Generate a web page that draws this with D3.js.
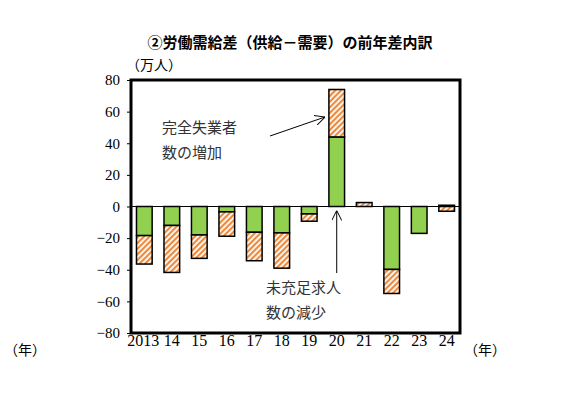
<!DOCTYPE html><html><head><meta charset="utf-8"><script src="https://cdn.jsdelivr.net/npm/d3@7"></script>
<style>body{margin:0;background:#fff}</style></head><body><svg id="c" width="576" height="410"></svg>
<script>
const categories=["2013","14","15","16","17","18","19","20","21","22","23","24"];
const unemployed=[-18.4,-12,-18,-3.4,-16.3,-16.7,-4.7,44,0,-39.8,-17,0.8];
const vacancies=[-18,-29.7,-14.8,-15.4,-18,-22.3,-4.6,30,2.5,-15.2,0,-3];
const yTicks=[-80,-60,-40,-20,0,20,40,60,80];
const svg=d3.select("#c");
const defs=svg.append("defs");
const p=defs.append("pattern").attr("id","h").attr("patternUnits","userSpaceOnUse").attr("width",4).attr("height",4).attr("patternTransform","rotate(45)");
p.append("rect").attr("width",4).attr("height",4).attr("fill","#fff");
p.append("rect").attr("width",2.2).attr("height",4).attr("fill","#ee8a3c");
const L=131,R=460,T=80,B=333;
const x=d3.scaleBand().domain(categories).range([L,R]).paddingInner(0.43).paddingOuter(0.2);
const y=d3.scaleLinear().domain([-80,80]).range([B,T]);
const num="Liberation Serif, serif", jp="Noto Sans CJK JP";
svg.append("text").attr("x",290).attr("y",48).attr("text-anchor","middle").attr("font-family",jp).attr("font-weight","bold").attr("font-size",15).text("②労働需給差（供給－需要）の前年差内訳");
svg.append("text").attr("x",126).attr("y",70).attr("font-family",jp).attr("font-size",14).text("（万人）");
const ya=svg.append("g").attr("transform",`translate(${L},0)`).call(d3.axisLeft(y).tickValues(yTicks).tickSize(4).tickFormat(d=>d<0?"−"+(-d):d));
ya.select(".domain").remove();
ya.selectAll("text").attr("font-family",num).attr("font-size",15).attr("fill","#000").attr("dx",-4);
categories.forEach((c,i)=>{
  const g=unemployed[i], h=vacancies[i];
  const bx=x(c), w=x.bandwidth();
  svg.append("rect").attr("x",bx).attr("width",w).attr("y",y(Math.max(0,g))).attr("height",Math.abs(y(g)-y(0))).attr("fill","#92d050").attr("stroke","#000").attr("stroke-width",1.5);
  let s=(g*h>0)?g:0;
  const a=s, b=s+h;
  svg.append("rect").attr("x",bx).attr("width",w).attr("y",y(Math.max(a,b))).attr("height",Math.abs(y(a)-y(b))).attr("fill","url(#h)").attr("stroke","#000").attr("stroke-width",1.5);
});
svg.append("line").attr("x1",L).attr("x2",R).attr("y1",y(0)).attr("y2",y(0)).attr("stroke","#000").attr("stroke-width",1);
svg.append("rect").attr("x",L).attr("y",T).attr("width",R-L).attr("height",B-T).attr("fill","none").attr("stroke","#000").attr("stroke-width",3);
const xa=svg.append("g").attr("transform",`translate(0,${B})`).call(d3.axisBottom(x).tickSize(0));
xa.select(".domain").remove();
xa.selectAll("text").attr("font-family",num).attr("font-size",16).attr("fill","#000").attr("dy",10);
xa.selectAll(".tick").filter(d=>d==="2013").select("text").attr("dx",-1);
svg.append("text").attr("x",4).attr("y",355).attr("font-family",jp).attr("font-size",14).text("（年）");
svg.append("text").attr("x",464).attr("y",355).attr("font-family",jp).attr("font-size",14).text("（年）");
const mk=defs.append("marker").attr("id","ar").attr("viewBox","0 0 10 10").attr("refX",10).attr("refY",5).attr("markerWidth",10).attr("markerHeight",10).attr("orient","auto").attr("markerUnits","userSpaceOnUse");
mk.append("path").attr("d","M0,0L10,5L0,10").attr("fill","none").attr("stroke","#000");
const ax=x("20")+x.bandwidth()/2;
svg.append("line").attr("x1",270).attr("y1",136).attr("x2",325).attr("y2",117).attr("stroke","#000").attr("marker-end","url(#ar)");
svg.append("line").attr("x1",ax).attr("y1",273).attr("x2",ax).attr("y2",y(0)+4).attr("stroke","#000").attr("marker-end","url(#ar)");
[["完全失業者",162,133],["数の増加",162,158],["未充足求人",266,293],["数の減少",266,318]].forEach(t=>svg.append("text").attr("x",t[1]).attr("y",t[2]).attr("font-family",jp).attr("font-size",15).attr("fill","#333").text(t[0]));
</script></body></html>
